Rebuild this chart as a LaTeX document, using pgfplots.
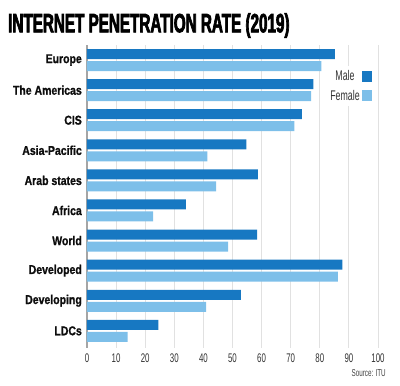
\documentclass[border=0pt]{standalone}
\usepackage{fontspec}
\usepackage{pgfplots}
\pgfplotsset{compat=1.18}
\setmainfont{Liberation Sans}
\newfontfamily\titlefont{Liberation Sans}[FakeStretch=0.575, FakeBold=2.5]
\newfontfamily\condfont{Liberation Sans}[FakeStretch=0.63]
\newfontfamily\labelfont{Liberation Sans}[FakeStretch=0.82, FakeBold=1]
\definecolor{male}{RGB}{23,120,194}
\definecolor{female}{RGB}{125,191,233}
\definecolor{gridc}{RGB}{225,225,225}
\definecolor{axisc}{RGB}{165,165,165}
\begin{document}
\begin{tikzpicture}
\useasboundingbox (-87pt,-38pt) rectangle (313pt,348pt);
\begin{axis}[
  at={(0pt,0pt)}, anchor=south west,
  scale only axis, width=291pt, height=303pt,
  xmin=0, xmax=100, ymin=-0.57, ymax=9.5,
  xtick={0,10,...,100},
  ytick={0,...,9},
  yticklabels={LDCs,Developing,Developed,World,Africa,Arab states,Asia-Pacific,CIS,The Americas,Europe},
  axis lines*=left,
  axis line style={-},
  x axis line style={draw=none},
  y axis line style={draw=axisc, line width=1.2pt},
  major tick length=0pt,
  xmajorgrids, major grid style={draw=gridc, line width=0.9pt},
  /pgf/number format/assume math mode=true,
  xticklabel style={font=\condfont\fontsize{12.5}{13}\selectfont, text=black!80, anchor=north, inner sep=0pt, yshift=-5.5pt},
  yticklabel style={font=\labelfont\bfseries\fontsize{12.8}{13}\selectfont, text=black!95, anchor=east, inner sep=0pt, xshift=-5pt},
  xbar, bar width=10pt,
  legend plot pos=right,
  legend image code/.code={\fill[#1,draw=none] (0pt,-5.5pt) rectangle (10pt,5.5pt);},
  legend style={draw=none, fill=white, inner sep=2pt, row sep=4pt,
    at={(axis cs:98.6,8.8)}, anchor=north east,
    font=\condfont\fontsize{14}{15}\selectfont, text=black!80},
]
\addplot[fill=male, draw=none, bar shift=6pt] coordinates {
(24.5,0) (52.9,1) (87.8,2) (58.5,3) (34.0,4) (58.7,5) (54.8,6) (73.8,7) (77.8,8) (85.2,9)};
\addlegendentry{Male}
\addplot[fill=female, draw=none, bar shift=-6pt] coordinates {
(14.0,0) (40.9,1) (86.2,2) (48.5,3) (22.7,4) (44.4,5) (41.4,6) (71.3,7) (77.0,8) (80.5,9)};
\addlegendentry{Female}
\end{axis}
\node[anchor=base west, inner sep=0pt, font=\titlefont\bfseries\fontsize{26.5}{28}\selectfont] at (-79pt,315.7pt) {INTERNET PENETRATION RATE (2019)};
\node[anchor=base east, inner sep=0pt, font=\condfont\fontsize{10}{10}\selectfont, text=black!75] at (299pt,-29pt) {Source: ITU};
\end{tikzpicture}
\end{document}
